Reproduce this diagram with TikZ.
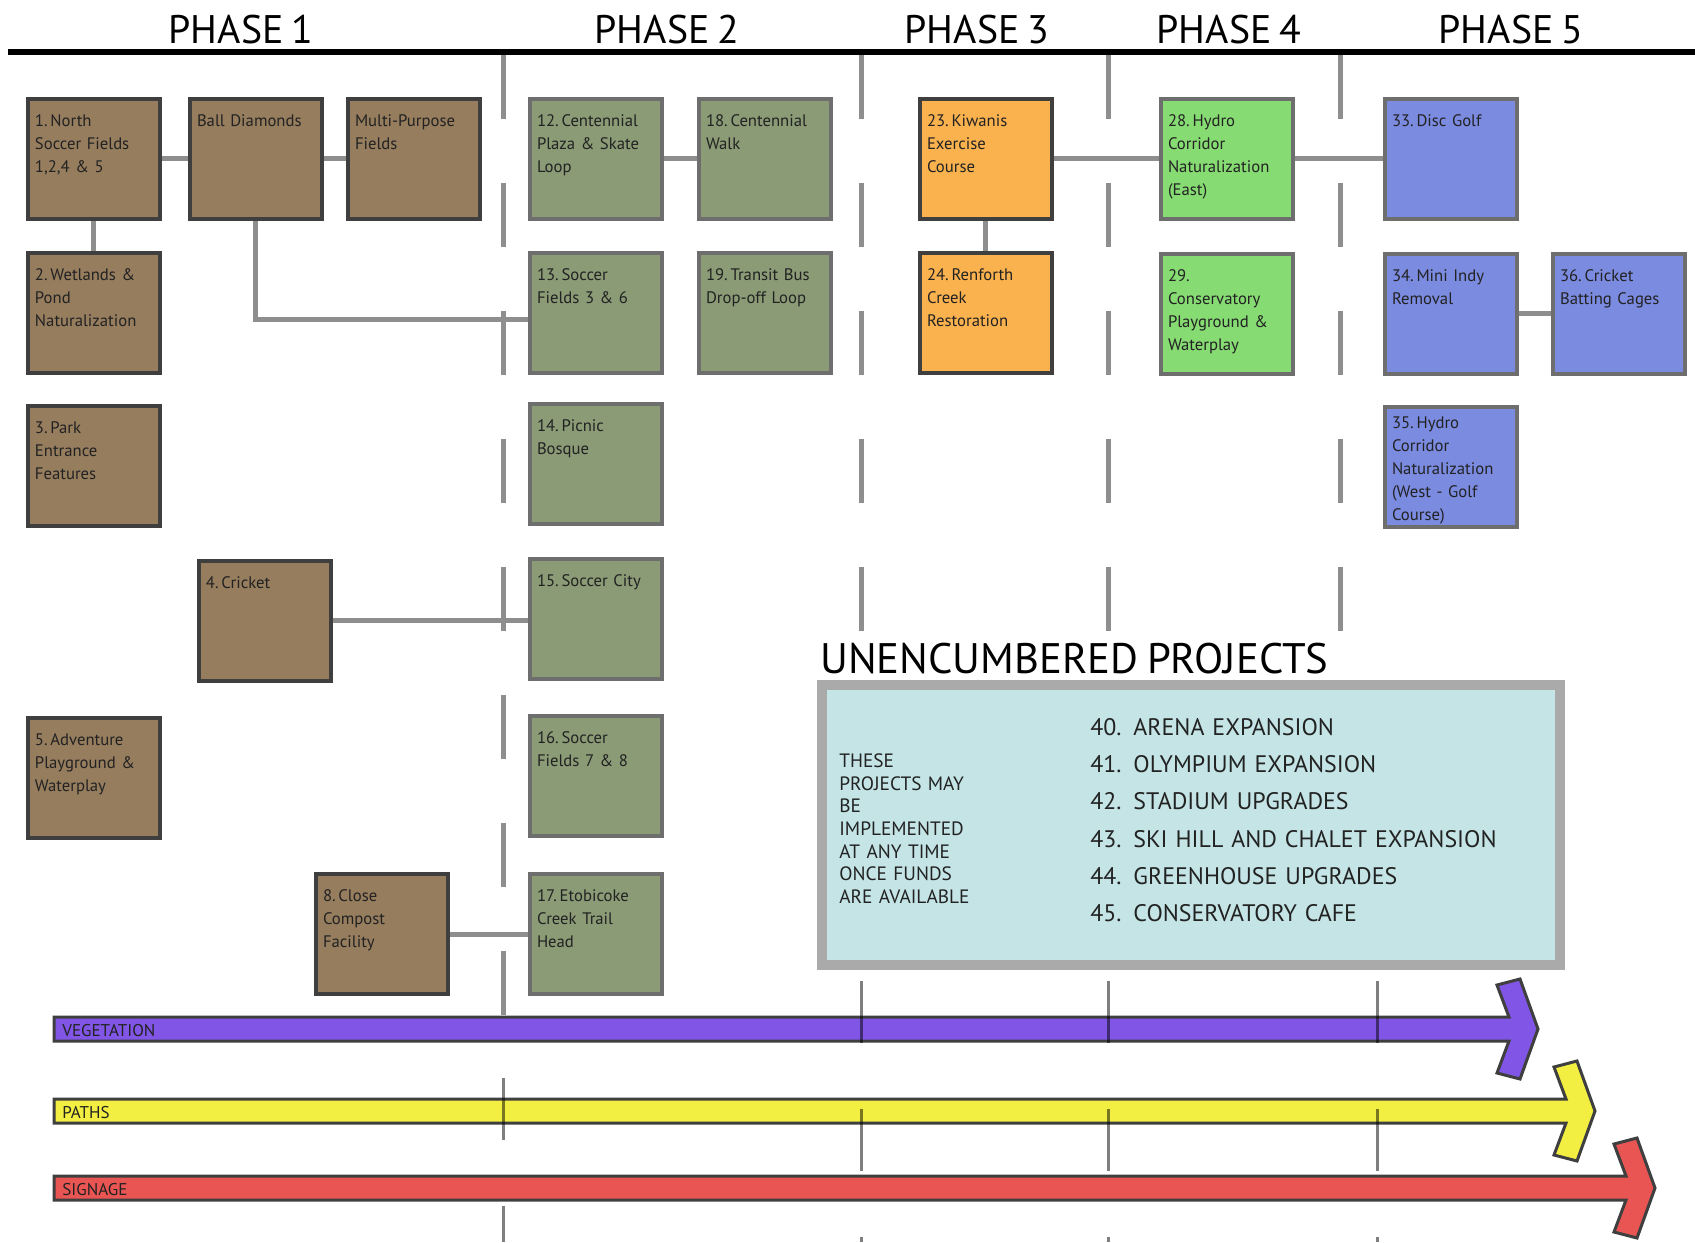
\documentclass[tikz,border=0pt]{standalone}
\usepackage{fontspec}
\setmainfont{PT Sans}[WordSpace=0.75]

\definecolor{brownfill}{HTML}{967D5E}
\definecolor{sagefill}{HTML}{8A9B76}
\definecolor{orangefill}{HTML}{FAB24F}
\definecolor{greenfill}{HTML}{86DB73}
\definecolor{bluefill}{HTML}{7B8BE0}
\definecolor{darkedge}{HTML}{3F3F3F}
\definecolor{greyedge}{HTML}{6E6E6E}
\definecolor{linkgrey}{HTML}{8E8E8E}
\definecolor{poolfill}{HTML}{C4E4E6}
\definecolor{pooledge}{HTML}{AAAAAA}
\definecolor{vegfill}{HTML}{8155E6}
\definecolor{pathfill}{HTML}{F2EF42}
\definecolor{signfill}{HTML}{E85553}
\definecolor{inkdark}{HTML}{222222}

\tikzset{
	site/.style={anchor=north west, line width=0.08cm, inner xsep=0.14cm, inner ysep=0.18cm,
		text width=2.36cm, text height=0.36cm, text depth=1.68cm, align=left,
		font=\fontsize{9.5}{13.1}\selectfont, text=inkdark},
	phaseone/.style={site, fill=brownfill, draw=darkedge},
	phasetwo/.style={site, fill=sagefill, draw=greyedge},
	phasethree/.style={site, fill=orangefill, draw=darkedge},
	phasefour/.style={site, fill=greenfill, draw=greyedge},
	phasefive/.style={site, fill=bluefill, draw=greyedge},
	phasetitle/.style={anchor=base, inner sep=0pt, font=\fontsize{22.7}{26}\selectfont},
	link/.style={draw=linkgrey, line width=0.1cm},
	sep/.style={draw=linkgrey, line width=0.1cm, dash pattern=on 1.28cm off 1.28cm},
	tick/.style={draw=black, opacity=0.5, line width=0.06cm, dash pattern=on 1.24cm off 1.32cm},
	band/.style={draw=darkedge, line width=0.06cm, line join=miter},
	bandlabel/.style={anchor=base west, inner sep=0pt, text=inkdark, font=\fontsize{9.7}{11}\selectfont}
}

\begin{document}
\begin{tikzpicture}[x=0.02cm, y=-0.02cm]
	
	\fill[white] (0,0) rectangle (1695,1242);
	\useasboundingbox (0,0) rectangle (1695,1242);
	
	% phases along the top
	\draw[line width=0.12cm] (8,52) -- (1695,52);
	\node[phasetitle] (ph1) at (241,43) {PHASE 1};
	\node[phasetitle] (ph2) at (667,43) {PHASE 2};
	\node[phasetitle] (ph3) at (977,43) {PHASE 3};
	\node[phasetitle] (ph4) at (1229,43) {PHASE 4};
	\node[phasetitle] (ph5) at (1511,43) {PHASE 5};
	
	\draw[sep] (503,55) -- (503,1015);
	\draw[sep] (861,55) -- (861,632);
	\draw[sep] (1108,55) -- (1108,632);
	\draw[sep] (1340,55) -- (1340,632);
	
	% phase 1
	\node[phaseone] (s1) at (26,97) {1.\,North\\Soccer Fields\\1,2,4 \& 5};
	\node[phaseone] (sball) at (188,97) {Ball Diamonds};
	\node[phaseone] (smulti) at (346,97) {Multi-Purpose\\Fields};
	\node[phaseone] (s2) at (26,251) {2.\,Wetlands \&\\Pond\\Naturalization};
	\node[phaseone] (s3) at (26,404) {3.\,Park\\Entrance\\Features};
	\node[phaseone] (s4) at (197,559) {4.\,Cricket};
	\node[phaseone] (s5) at (26,716) {5.\,Adventure\\Playground \&\\Waterplay};
	\node[phaseone] (s8) at (314,872) {8.\,Close\\Compost\\Facility};
	
	% phase 2
	\node[phasetwo] (s12) at (528,97) {12.\,Centennial\\Plaza \& Skate\\Loop};
	\node[phasetwo] (s18) at (697,97) {18.\,Centennial\\Walk};
	\node[phasetwo] (s13) at (528,251) {13.\,Soccer\\Fields 3 \& 6};
	\node[phasetwo] (s19) at (697,251) {19.\,Transit Bus\\Drop-off Loop};
	\node[phasetwo] (s14) at (528,402) {14.\,Picnic\\Bosque};
	\node[phasetwo] (s15) at (528,557) {15.\,Soccer City};
	\node[phasetwo] (s16) at (528,714) {16.\,Soccer\\Fields 7 \& 8};
	\node[phasetwo] (s17) at (528,872) {17.\,Etobicoke\\Creek Trail\\Head};
	
	% phase 3
	\node[phasethree] (s23) at (918,97) {23.\,Kiwanis\\Exercise\\Course};
	\node[phasethree] (s24) at (918,251) {24.\,Renforth\\Creek\\Restoration};
	
	% phase 4
	\node[phasefour] (s28) at (1159,97) {28.\,Hydro\\Corridor\\Naturalization\\(East)};
	\node[phasefour] (s29) at (1159,252) {29.\\Conservatory\\Playground \&\\Waterplay};
	
	% phase 5
	\node[phasefive] (s33) at (1383,97) {33.\,Disc Golf};
	\node[phasefive] (s34) at (1383,252) {34.\,Mini Indy\\Removal};
	\node[phasefive] (s36) at (1551,252) {36.\,Cricket\\Batting Cages};
	\node[phasefive, text height=0.24cm, text depth=1.8cm] (s35) at (1383,405) {35.\,Hydro\\Corridor\\Naturalization\\(West - Golf\\Course)};
	
	% links
	\draw[link] (s1.east) -- (sball.west);
	\draw[link] (sball.east) -- (smulti.west);
	\draw[link] (s1.south) -- (s2.north);
	\draw[link] (sball.south) |- ([yshift=-0.14cm]s13.west);
	\draw[link] (s12.east) -- (s18.west);
	\draw[link] (s4.east) -- (s4.east -| s15.west);
	\draw[link] (s8.east) -- (s8.east -| s17.west);
	\draw[link] (s23.east) -- (s28.west);
	\draw[link] (s28.east) -- (s33.west);
	\draw[link] (s23.south) -- (s24.north);
	\draw[link] (s34.east) -- (s36.west);
	
	% unencumbered projects
	\node[anchor=base west, inner sep=0pt, font=\fontsize{24.3}{28}\selectfont] (unc) at (820,673) {UNENCUMBERED PROJECTS};
	\draw[line width=0.2cm, draw=pooledge, fill=poolfill] (822,685) rectangle (1560,965);
	\node[anchor=north west, inner sep=0pt, text width=3cm, text height=0.28cm, align=left, text=inkdark,
		font=\fontsize{11}{12.9}\selectfont] (note) at (839,753) {THESE\\PROJECTS MAY\\BE\\IMPLEMENTED\\AT ANY TIME\\ONCE FUNDS\\ARE AVAILABLE};
	\node[anchor=north west, inner sep=0pt, text width=9cm, text height=0.34cm, align=left, text=inkdark,
		font=\fontsize{13.6}{21.2}\selectfont] (list) at (1090,718) {40. ARENA EXPANSION\\41. OLYMPIUM EXPANSION\\42. STADIUM UPGRADES\\43. SKI HILL AND CHALET EXPANSION\\44. GREENHOUSE UPGRADES\\45. CONSERVATORY CAFE};
	
	% ongoing bands
	\draw[band, fill=vegfill] (54,1029-12) -- (1538-29,1029-12) -- (1538-41,1029-44) -- (1538-18,1029-50) -- (1538,1029)
		-- (1538-18,1029+50) -- (1538-41,1029+44) -- (1538-29,1029+12) -- (54,1029+12) -- cycle;
	\draw[band, fill=pathfill] (54,1111-12) -- (1595-29,1111-12) -- (1595-41,1111-44) -- (1595-18,1111-50) -- (1595,1111)
		-- (1595-18,1111+50) -- (1595-41,1111+44) -- (1595-29,1111+12) -- (54,1111+12) -- cycle;
	\draw[band, fill=signfill] (54,1188-12) -- (1655-29,1188-12) -- (1655-41,1188-44) -- (1655-18,1188-50) -- (1655,1188)
		-- (1655-18,1188+50) -- (1655-41,1188+44) -- (1655-29,1188+12) -- (54,1188+12) -- cycle;
	\node[bandlabel] (veg) at (62,1036) {VEGETATION};
	\node[bandlabel] (paths) at (62,1118) {PATHS};
	\node[bandlabel] (sign) at (62,1195) {SIGNAGE};
	
	\draw[tick] (503,1078) -- (503,1242);
	\draw[tick] (861,981) -- (861,1242);
	\draw[tick] (1108,981) -- (1108,1242);
	\draw[tick] (1377,981) -- (1377,1242);
	
\end{tikzpicture}
\end{document}
